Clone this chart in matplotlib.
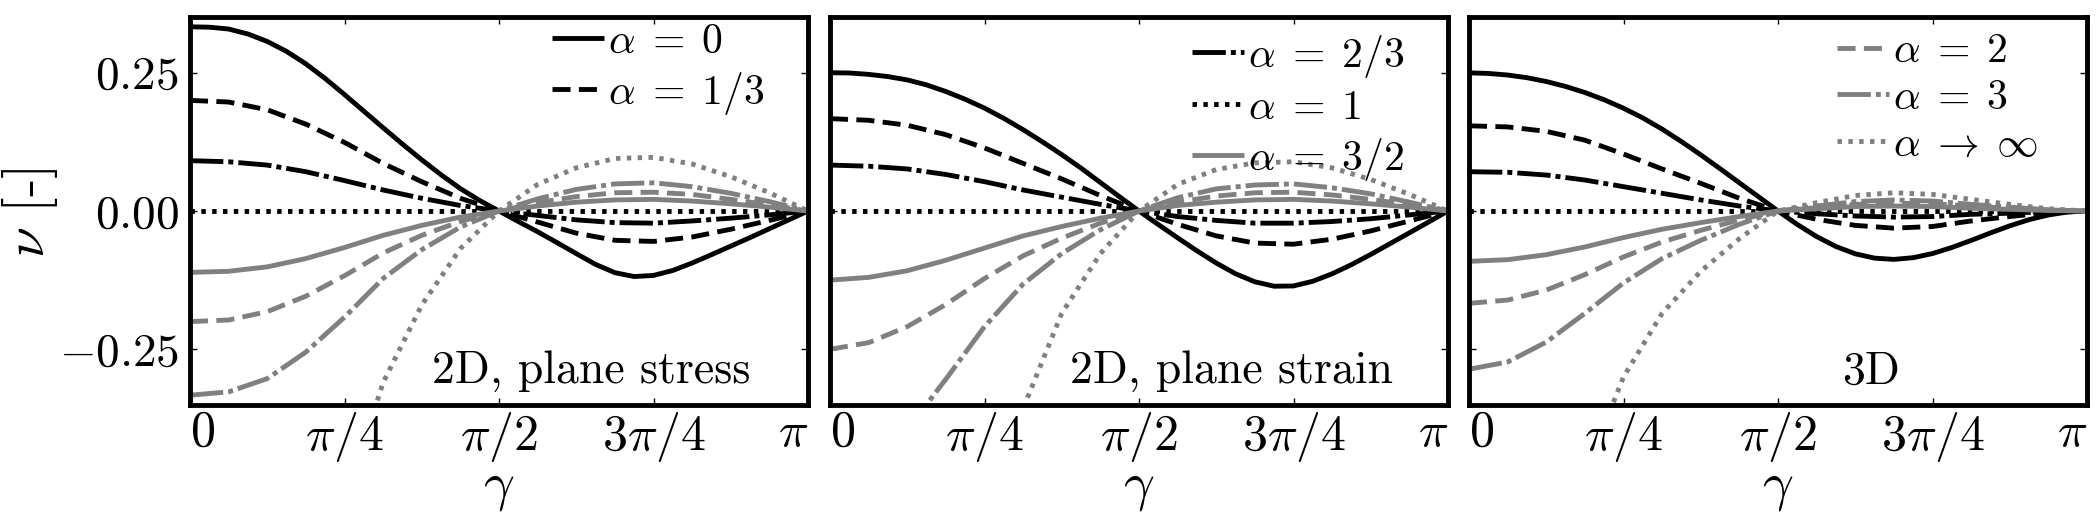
import matplotlib
matplotlib.use('Agg')
import matplotlib.pyplot as plt
import numpy as np

plt.rcParams['mathtext.fontset'] = 'cm'
plt.rcParams['font.family'] = 'cmr10'
plt.rcParams['axes.formatter.use_mathtext'] = True
plt.rcParams['lines.scale_dashes'] = False

# sampling grids of gamma (in units of pi)
gamma_over_pi = [0, 0.0625, 0.125, 0.1875, 0.25, 0.3125, 0.375, 0.4375, 0.5,
                 0.5625, 0.625, 0.6875, 0.75, 0.8125, 0.875, 0.9375, 1.0]
gamma_fine_over_pi = [0, 0.03125, 0.0625, 0.09375, 0.125, 0.15625, 0.1875, 0.21875,
                      0.25, 0.28125, 0.3125, 0.34375, 0.375, 0.40625, 0.4375, 0.46875,
                      0.5, 0.53125, 0.5625, 0.59375, 0.625, 0.65625, 0.6875, 0.71875,
                      0.75, 0.78125, 0.8125, 0.84375, 0.875, 0.90625, 0.9375, 0.96875, 1.0]

alpha_labels = [r'$\alpha\;=\;0$', r'$\alpha\;=\;1/3$', r'$\alpha\;=\;2/3$', r'$\alpha\;=\;1$',
                r'$\alpha\;=\;3/2$', r'$\alpha\;=\;2$', r'$\alpha\;=\;3$', r'$\alpha\;\rightarrow\;\infty$']
panel_titles = ['2D, plane stress', '2D, plane strain', '3D']
x_tick_labels = [r'$0$', r'$\pi/4$', r'$\pi/2$', r'$3\pi/4$', r'$\pi$']
y_ticks = [-0.25, 0.0, 0.25]
y_tick_labels = [r'$-0.25$', r'$0.00$', r'$0.25$']

# ---- 2D plane stress ----
stress_a0 = [0.3330, 0.3323, 0.3290, 0.3200, 0.3065, 0.2885, 0.2660, 0.2395, 0.2105, 0.1805, 0.1505,
             0.1210, 0.0925, 0.0655, 0.0405, 0.0190, 0.0, -0.0190, -0.0375, -0.0570, -0.0770, -0.0965,
             -0.1115, -0.1185, -0.1165, -0.1075, -0.0940, -0.0790, -0.0635, -0.0480, -0.0320, -0.0160, 0.0]
stress_a13 = [0.200, 0.197, 0.183, 0.157, 0.124, 0.086, 0.053, 0.023, 0.0, -0.020, -0.040, -0.053, -0.055, -0.047, -0.033, -0.017, 0.0]
stress_a23 = [0.091, 0.089, 0.083, 0.071, 0.055, 0.038, 0.023, 0.010, 0.0, -0.008, -0.016, -0.021, -0.022, -0.018, -0.013, -0.007, 0.0]
stress_a1 = [0.0] * 17
stress_a32 = [-0.111, -0.109, -0.101, -0.086, -0.066, -0.044, -0.026, -0.011, 0.0, 0.009, 0.016, 0.020, 0.021, 0.018, 0.013, 0.007, 0.0]
stress_a2 = [-0.200, -0.197, -0.182, -0.154, -0.117, -0.076, -0.044, -0.019, 0.0, 0.015, 0.026, 0.033, 0.034, 0.030, 0.021, 0.011, 0.0]
stress_a3 = [-0.333, -0.327, -0.303, -0.255, -0.192, -0.122, -0.070, -0.029, 0.0, 0.022, 0.039, 0.049, 0.051, 0.044, 0.032, 0.017, 0.0]
stress_ainf = [-1.0, -0.98, -0.90, -0.74, -0.53, -0.31, -0.17, -0.068, 0.0, 0.048, 0.078, 0.095, 0.097, 0.085, 0.062, 0.033, 0.0]

# ---- 2D plane strain ----
strain_a0 = [0.2500, 0.2495, 0.2470, 0.2430, 0.2370, 0.2280, 0.2160, 0.2020, 0.1860, 0.1675, 0.1470,
             0.1250, 0.1020, 0.0775, 0.0515, 0.0255, 0.0, -0.0245, -0.0485, -0.0720, -0.0940, -0.1135,
             -0.1280, -0.1360, -0.1355, -0.1270, -0.1135, -0.0970, -0.0785, -0.0590, -0.0395, -0.0198, 0.0]
strain_a13 = [0.167, 0.164, 0.155, 0.138, 0.114, 0.086, 0.058, 0.028, 0.0, -0.024, -0.045, -0.058, -0.060, -0.051, -0.036, -0.018, 0.0]
strain_a23 = [0.083, 0.081, 0.076, 0.066, 0.053, 0.038, 0.025, 0.012, 0.0, -0.010, -0.017, -0.022, -0.022, -0.019, -0.014, -0.007, 0.0]
strain_a1 = [0.0] * 17
strain_a32 = [-0.125, -0.120, -0.108, -0.089, -0.067, -0.045, -0.028, -0.013, 0.0, 0.010, 0.016, 0.020, 0.021, 0.018, 0.013, 0.007, 0.0]
strain_a2 = [-0.250, -0.238, -0.209, -0.169, -0.122, -0.081, -0.049, -0.022, 0.0, 0.016, 0.027, 0.033, 0.034, 0.029, 0.021, 0.011, 0.0]
strain_a3 = [-0.500, -0.466, -0.395, -0.304, -0.209, -0.132, -0.077, -0.034, 0.0, 0.024, 0.040, 0.047, 0.049, 0.042, 0.031, 0.016, 0.0]
strain_ainf = [-100.0, -12.5, -3.57, -1.54, -0.714, -0.357, -0.185, -0.077, 0.0, 0.048, 0.075, 0.087, 0.089, 0.078, 0.057, 0.030, 0.0]

# ---- 3D ----
three_a0 = [0.2497, 0.2487, 0.2458, 0.2410, 0.2341, 0.2252, 0.2142, 0.2011, 0.1858, 0.1683, 0.1480,
            0.1255, 0.1015, 0.0765, 0.0510, 0.0255, 0.0, -0.0244, -0.0462, -0.0642, -0.0774, -0.0852,
            -0.0875, -0.0844, -0.0769, -0.0660, -0.0532, -0.0397, -0.0268, -0.0157, -0.0072, -0.0018, 0.0]
three_a13 = [0.154, 0.152, 0.144, 0.128, 0.103, 0.076, 0.050, 0.023, 0.0, -0.015, -0.026, -0.031, -0.028, -0.018, -0.010, -0.003, 0.0]
three_a23 = [0.071, 0.070, 0.065, 0.056, 0.044, 0.032, 0.020, 0.009, 0.0, -0.005, -0.009, -0.011, -0.010, -0.006, -0.004, -0.001, 0.0]
three_a1 = [0.0] * 17
three_a32 = [-0.091, -0.088, -0.079, -0.065, -0.048, -0.033, -0.021, -0.010, 0.0, 0.004, 0.008, 0.009, 0.008, 0.005, 0.003, 0.001, 0.0]
three_a2 = [-0.167, -0.161, -0.143, -0.115, -0.083, -0.056, -0.035, -0.016, 0.0, 0.006, 0.012, 0.014, 0.013, 0.009, 0.005, 0.002, 0.0]
three_a3 = [-0.286, -0.273, -0.237, -0.185, -0.130, -0.086, -0.053, -0.024, 0.0, 0.009, 0.017, 0.020, 0.018, 0.012, 0.007, 0.002, 0.0]
three_ainf = [-1.0, -0.91, -0.70, -0.476, -0.30, -0.185, -0.109, -0.05, 0.0, 0.015, 0.028, 0.033, 0.030, 0.021, 0.012, 0.004, 0.0]

panels = [
    [stress_a0, stress_a13, stress_a23, stress_a1, stress_a32, stress_a2, stress_a3, stress_ainf],
    [strain_a0, strain_a13, strain_a23, strain_a1, strain_a32, strain_a2, strain_a3, strain_ainf],
    [three_a0, three_a13, three_a23, three_a1, three_a32, three_a2, three_a3, three_ainf],
]

BLACK = 'black'
GRAY = '#808080'
solid = (0, ())
dashed = (0, (13, 6))
dashdot = (0, (24, 3.6, 3.6, 3.6))
dotted = (0, (3.2, 4.6))
styles = [
    (BLACK, solid), (BLACK, dashed), (BLACK, dashdot), (BLACK, dotted),
    (GRAY, solid), (GRAY, dashed), (GRAY, dashdot), (GRAY, dotted),
]
legend_groups = [[0, 1], [2, 3, 4], [5, 6, 7]]
legend_anchor = [(0.93, 0.985), (0.93, 0.96), (0.92, 0.96)]

W, H = 2100, 513
fig = plt.figure(figsize=(W / 100, H / 100), dpi=100)
lefts = [190, 830, 1469]
ax_w = 618
ax_bottom = 108.4
ax_h = 387.2

gamma = np.pi * np.array(gamma_over_pi)
gamma_fine = np.pi * np.array(gamma_fine_over_pi)
for p in range(3):
    ax = fig.add_axes([lefts[p] / W, ax_bottom / H, ax_w / W, ax_h / H])
    lines = []
    for i, series in enumerate(panels[p]):
        color, ls = styles[i]
        xs = gamma_fine if len(series) == len(gamma_fine) else gamma
        ln, = ax.plot(xs, series, color=color, linestyle=ls, linewidth=3.5,
                      dash_capstyle='butt', solid_capstyle='butt',
                      solid_joinstyle='round', label=alpha_labels[i])
        lines.append(ln)
    ax.set_xlim(0, np.pi)
    ax.set_ylim(-0.35, 0.35)
    ax.set_xticks([0, np.pi / 4, np.pi / 2, 3 * np.pi / 4, np.pi])
    ax.set_xticklabels(x_tick_labels)
    xt = ax.get_xticklabels()
    xt[0].set_horizontalalignment('left')
    xt[-1].set_horizontalalignment('right')
    ax.set_yticks(y_ticks)
    if p == 0:
        ax.set_yticklabels(y_tick_labels)
    else:
        ax.set_yticklabels([])
    ax.tick_params(direction='in', top=True, right=True, length=5, width=1, pad=8)
    ax.tick_params(axis='x', labelsize=36, pad=4)
    ax.tick_params(axis='y', labelsize=34)
    for s in ax.spines.values():
        s.set_linewidth(3.5)
    ax.text(0.65, 0.055, panel_titles[p], transform=ax.transAxes, ha='center',
            va='baseline', fontsize=33)
    grp = legend_groups[p]
    ax.legend([lines[i] for i in grp], [alpha_labels[i] for i in grp],
              loc='upper right', bbox_to_anchor=legend_anchor[p], frameon=False,
              fontsize=30, handlelength=1.25, handletextpad=0.1, borderpad=0,
              borderaxespad=0, labelspacing=0.22)
    fig.text((lefts[p] + ax_w / 2) / W, (H - 466) / H, r'$\gamma$', fontsize=39,
             ha='center', va='top')

fig.text(30 / W, (H - 213) / H, r'$\nu$ [-]', fontsize=40, rotation=90,
         ha='center', va='center')

fig.savefig('out.png', dpi=100)
